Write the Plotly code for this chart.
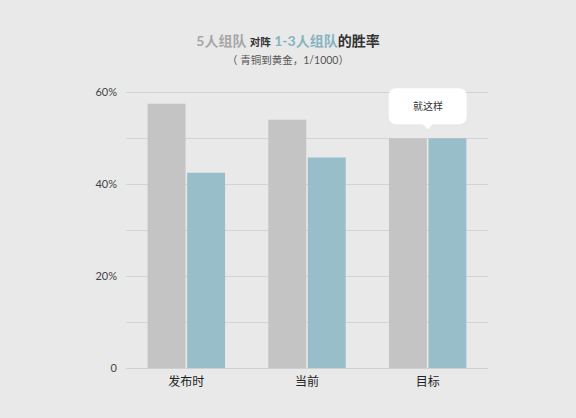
import plotly.graph_objects as go

categories = ["发布时", "当前", "目标"]
five_stack = [57.5, 54.0, 50.0]
small_team = [42.5, 45.8, 50.0]
tick_vals = [0, 20, 40, 60]
tick_text = ["0", "20%", "40%", "60%"]
note_text = "就这样"
note_cat = 2
note_val = 50

bg = "#e9e9e9"
gray = "#c4c4c4"
teal = "#98bfc9"
cjk = "Lato, 'Noto Sans CJK SC', sans-serif"

fig = go.Figure()
fig.add_trace(go.Bar(x=categories, y=five_stack, marker=dict(color=gray, line_width=0),
                     name="5人组队", hoverinfo="y"))
fig.add_trace(go.Bar(x=categories, y=small_team, marker=dict(color=teal, line_width=0),
                     name="1-3人组队", hoverinfo="y"))

title = ("<b><span style='color:#a6a6a6'>5人组队</span> "
         "<span style='font-size:10.5px;color:#333'>对阵</span> "
         "<span style='color:#86b3c0'>1-3人组队</span>"
         "<span style='color:#333'>的胜率</span></b>"
         "<br><span style='font-size:10.5px;color:#555'>（ 青铜到黄金，1/1000）</span>")

fig.update_layout(
    width=576, height=418,
    paper_bgcolor=bg, plot_bgcolor=bg,
    margin=dict(l=126, r=88, t=83, b=50),
    barmode="group", bargap=0.345, bargroupgap=0.04,
    showlegend=False,
    font=dict(family=cjk, size=12, color="#333"),
    title=dict(text=title, x=0.5, xanchor="center", y=0.89, yanchor="middle",
               font=dict(family=cjk, size=14)),
    xaxis=dict(showgrid=False, showline=False, ticks="", tickfont=dict(size=12, color="#222"),
               ticklabelstandoff=5, fixedrange=True),
    yaxis=dict(range=[0, 62], tickvals=tick_vals, ticktext=tick_text,
               showgrid=True, gridcolor="#d4d4d4", gridwidth=1, zeroline=True,
               zerolinecolor="#d0d0d0", zerolinewidth=1,
               tickfont=dict(size=11, color="#444"), ticks="", ticklabelstandoff=8,
               minor=dict(dtick=10, showgrid=True, gridcolor="#d4d4d4", gridwidth=1),
               fixedrange=True),
)

# callout bubble above the target group
w, h, r, gap, tip = 78, 36, 8, 14, 5
x0, x1 = -w / 2, w / 2
y0, y1 = gap, gap + h
path = (f"M{x0 + r},{y0} L{-tip},{y0} L0,{y0 - tip} L{tip},{y0} L{x1 - r},{y0} "
        f"Q{x1},{y0} {x1},{y0 + r} L{x1},{y1 - r} Q{x1},{y1} {x1 - r},{y1} "
        f"L{x0 + r},{y1} Q{x0},{y1} {x0},{y1 - r} L{x0},{y0 + r} Q{x0},{y0} {x0 + r},{y0} Z")
fig.add_shape(type="path", xref="x", yref="y", xsizemode="pixel", ysizemode="pixel",
              xanchor=note_cat, yanchor=note_val, path=path,
              fillcolor="white", line=dict(width=0), layer="above")
fig.add_annotation(x=note_cat, y=note_val, xref="x", yref="y", text=note_text,
                   showarrow=False, yshift=gap + h / 2, font=dict(size=10, color="#333"))

fig.write_html("out.html", config={"displayModeBar": False},
               post_script="document.body.style.margin='0';document.body.style.overflow='hidden';")
